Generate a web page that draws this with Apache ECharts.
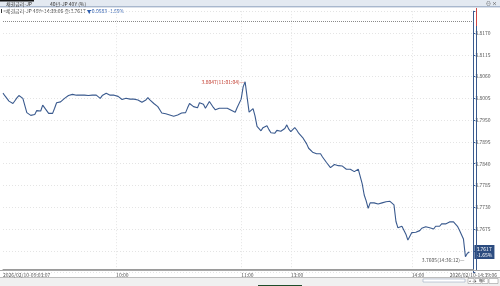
<!DOCTYPE html>
<html><head><meta charset="utf-8">
<script src="https://cdn.jsdelivr.net/npm/echarts@6/dist/echarts.min.js"></script>
<style>html,body{margin:0;padding:0;background:#fff;overflow:hidden}#c{width:500px;height:286px}</style>
</head><body><div id="c"></div><script>
// 채권금리-JP 40Y intraday values
const values = [
3.8018,3.8011,3.8008,3.7998,3.8001,3.7992,3.7999,3.8006,3.8012,3.8007,
3.8005,3.8003,3.7969,3.7966,3.7962,3.7962,3.7964,3.7974,3.7972,3.7973,
3.7988,3.7984,3.7974,3.7967,3.7965,3.7967,3.7980,3.7994,3.7994,3.7996,
3.7999,3.8005,3.8005,3.8012,3.8012,3.8015,3.8015,3.8013,3.8013,3.8013,
3.8012,3.8013,3.8012,3.8012,3.8014,3.8013,3.8011,3.8013,3.8012,3.8005,
3.8012,3.8016,3.8018,3.8023,3.8013,3.8014,3.8013,3.8012,3.8010,3.8005,
3.8002,3.8002,3.8005,3.8006,3.8003,3.8003,3.8003,3.8003,3.8001,3.7996,
3.7995,3.7996,3.8001,3.8007,3.8001,3.7996,3.7992,3.7988,3.7984,3.7976,
3.7968,3.7970,3.7966,3.7964,3.7963,3.7962,3.7960,3.7956,3.7963,3.7968,
3.7968,3.7968,3.7969,3.7981,3.7992,3.7989,3.7984,3.7986,3.7981,3.7994,
3.7992,3.7990,3.7980,3.7980,3.7997,3.7997,3.7982,3.7976,3.7980,3.7980,
3.7980,3.7980,3.7980,3.7980,3.7980,3.7975,3.7977,3.7970,3.7982,3.7987,
3.8003,3.8034,3.8047,3.8008,3.7970,3.7972,3.7979,3.7960,3.7934,3.7933,
3.7923,3.7931,3.7934,3.7936,3.7926,3.7918,3.7913,3.7917,3.7924,3.7923,
3.7922,3.7920,3.7929,3.7938,3.7927,3.7921,3.7925,3.7931,3.7925,3.7917,
3.7912,3.7906,3.7907,3.7890,3.7879,3.7875,3.7869,3.7870,3.7865,3.7863,
3.7865,3.7857,3.7852,3.7843,3.7841,3.7830,3.7835,3.7838,3.7835,3.7835,
3.7836,3.7834,3.7832,3.7826,3.7826,3.7826,3.7824,3.7820,3.7824,3.7826,
3.7824,3.7789,3.7761,3.7746,3.7727,3.7741,3.7743,3.7741,3.7741,3.7738,
3.7738,3.7741,3.7741,3.7744,3.7743,3.7745,3.7741,3.7736,3.7694,3.7678,
3.7681,3.7682,3.7678,3.7662,3.7647,3.7657,3.7666,3.7671,3.7667,3.7671,
3.7671,3.7677,3.7675,3.7681,3.7676,3.7678,3.7682,3.7675,3.7682,3.7681,
3.7682,3.7688,3.7690,3.7688,3.7688,3.7693,3.7693,3.7693,3.7692,3.7682,
3.7672,3.7667,3.7650,3.7605,3.7614,3.7617
];
const trailingSlots = 2;
const tickIndex = [0, 57, 120, 145, 206, 237];
const tickText = ['2026/02/10-09:03:07', '10:00', '11:00', '13:00', '14:00', '2026/02/10-14:39:06'];
const gridTickIndex = [57, 120, 145, 206];
const yMin = 3.7565, yMax = 3.8225, yStep = 0.0055;
const yLabelLow = 3.7675, yLabelHigh = 3.8170;
const refLine = 3.8188;
const peakTime = '11:01:04', lowTime = '14:36:12';
const lastText = '3.7617', lastPct = '-1.65%';
const titleMain = '채권금리-JP', titleSub = '40년-JP 40Y (%)';
const infoHead = '<채권금리-JP 40Y>14:39:06 종:3.7617 ';
const infoChange = '▼0.0583 -1.65%';

const N = values.length + trailingSlots;
const categories = [];
for (let i = 0; i < N; i++) {
  const p = tickIndex.indexOf(i);
  categories.push(p >= 0 ? tickText[p] : '');
}
const seriesData = values.concat(new Array(trailingSlots).fill(null));
const F = 'Noto Sans CJK KR, Noto Sans, sans-serif';
const lineColor = '#3a5a8e';

const chart = echarts.init(document.getElementById('c'), null, {renderer: 'canvas'});
chart.setOption({
  animation: false,
  backgroundColor: '#ffffff',
  textStyle: {fontFamily: F},
  grid: {left: 2, right: 24, top: 11.2, bottom: 13.4, containLabel: false},
  xAxis: {
    type: 'category', data: categories, boundaryGap: false, offset: -3,
    axisLine: {show: true, onZero: false, lineStyle: {color: '#9a9a9a', width: 1}},
    axisTick: {show: false},
    axisLabel: {
      interval: (i) => tickIndex.indexOf(i) >= 0,
      align: 'left', alignMaxLabel: 'center',
      fontSize: 5, color: '#555', margin: 3, fontFamily: F
    },
    splitLine: {show: true, interval: (i) => gridTickIndex.indexOf(i) >= 0,
      lineStyle: {type: [1, 2], color: '#e4e4e4', width: 1}}
  },
  yAxis: {
    type: 'value', position: 'right', min: yMin, max: yMax, interval: yStep,
    axisLine: {show: true, onZero: false, lineStyle: {color: lineColor, width: 1}},
    axisTick: {show: true, length: 2, lineStyle: {color: lineColor}},
    axisLabel: {
      fontSize: 5, color: '#555', margin: 2, fontFamily: F,
      formatter: (v) => (v >= yLabelLow - 1e-7 && v <= yLabelHigh + 1e-7) ? v.toFixed(4) : ''
    },
    splitLine: {show: true, lineStyle: {type: [1, 2], color: '#e4e4e4', width: 1}}
  },
  series: [{
    type: 'line', data: seriesData, symbol: 'none', connectNulls: false,
    lineStyle: {color: lineColor, width: 1.1},
    endLabel: {
      show: true, distance: 5,
      formatter: () => lastText + '\n' + lastPct,
      backgroundColor: '#2c4c80', color: '#fff', fontSize: 5, lineHeight: 6,
      padding: [1, 2, 1, 2], fontFamily: F
    },
    markLine: {
      silent: true, symbol: 'none',
      lineStyle: {type: [1, 1], color: '#8a8a8a', width: 1},
      label: {show: false},
      data: [{yAxis: refLine}]
    },
    markPoint: {
      symbol: 'circle', symbolSize: 0,
      data: [
        {type: 'max', label: {show: true, position: 'left', distance: 1, fontSize: 5, color: '#c0392b', fontFamily: F,
          formatter: (p) => p.value.toFixed(4) + '(' + peakTime + ')—'}},
        {type: 'min', label: {show: true, position: 'left', distance: 1, offset: [0, 3], fontSize: 5, color: '#555', fontFamily: F,
          formatter: (p) => p.value.toFixed(4) + '(' + lowTime + ')—'}}
      ]
    }
  }],
  graphic: [
    {type: 'rect', silent: true, shape: {x: 0, y: 0, width: 500, height: 7}, style: {fill: '#e3e9f1'}},
    {type: 'rect', silent: true, shape: {x: 0, y: 0, width: 34, height: 1.5}, style: {fill: '#111'}},
    {type: 'rect', silent: true, shape: {x: 0, y: 6.5, width: 500, height: 0.8}, style: {fill: '#6f86aa'}},
    {type: 'text', silent: true, style: {x: 6, y: 4, text: titleMain, fontSize: 5, fill: '#333', verticalAlign: 'middle', fontFamily: F}},
    {type: 'text', silent: true, style: {x: 50, y: 4, text: titleSub, fontSize: 5, fill: '#333', verticalAlign: 'middle', fontFamily: F}},
    {type: 'text', silent: true, style: {x: 486, y: 3.5, text: '⊖ ×', fontSize: 5, fill: '#333', verticalAlign: 'middle', fontFamily: F}},
    {type: 'rect', silent: true, shape: {x: 1, y: 9, width: 1, height: 4}, style: {fill: '#333'}},
    {type: 'text', silent: true, style: {x: 3, y: 11, fontSize: 5, verticalAlign: 'middle', fontFamily: F,
      text: '{a|' + infoHead + '}{b|' + infoChange + '}',
      rich: {a: {fontSize: 5, fill: '#444', fontFamily: F}, b: {fontSize: 5, fill: '#2f5fb0', fontFamily: F}}}},
    {type: 'line', silent: true, z: 10, shape: {x1: 476.5, y1: 8, x2: 476.5, y2: 26}, style: {stroke: '#d04545', lineWidth: 1}},
    {type: 'line', silent: true, z: 10, shape: {x1: 476.5, y1: 26, x2: 476.5, y2: 270}, style: {stroke: lineColor, lineWidth: 1}},
    {type: 'line', silent: true, z: 10, shape: {x1: 0, y1: 270.5, x2: 500, y2: 270.5}, style: {stroke: '#a8a8a8', lineWidth: 1}},
    {type: 'rect', silent: true, shape: {x: 0, y: 277, width: 500, height: 9}, style: {fill: '#f0f0f0'}},
    {type: 'line', silent: true, shape: {x1: 0, y1: 277.5, x2: 500, y2: 277.5}, style: {stroke: '#bdbdbd', lineWidth: 1}},
    {type: 'rect', silent: true, shape: {x: 423, y: 279, width: 42, height: 3}, style: {fill: '#fff', stroke: '#8a9bb5', lineWidth: 0.5}},
    {type: 'rect', silent: true, shape: {x: 468, y: 278.5, width: 6, height: 5}, style: {fill: '#fff', stroke: '#888', lineWidth: 0.5}},
    {type: 'rect', silent: true, shape: {x: 475, y: 278.5, width: 6, height: 5}, style: {fill: '#fff', stroke: '#888', lineWidth: 0.5}},
    {type: 'rect', silent: true, shape: {x: 482, y: 278.5, width: 6, height: 5}, style: {fill: '#fff', stroke: '#888', lineWidth: 0.5}},
    {type: 'rect', silent: true, shape: {x: 489, y: 278.5, width: 9, height: 5}, style: {fill: '#fff', stroke: '#888', lineWidth: 0.5}},
    {type: 'text', silent: true, style: {x: 469, y: 281, text: '◂  ‒  ▸  MAX', fontSize: 3, fill: '#333', verticalAlign: 'middle', fontFamily: F}},
    {type: 'rect', silent: true, shape: {x: 258, y: 285, width: 44, height: 1}, style: {fill: '#1e4d2b'}}
  ]
});
</script></body></html>
